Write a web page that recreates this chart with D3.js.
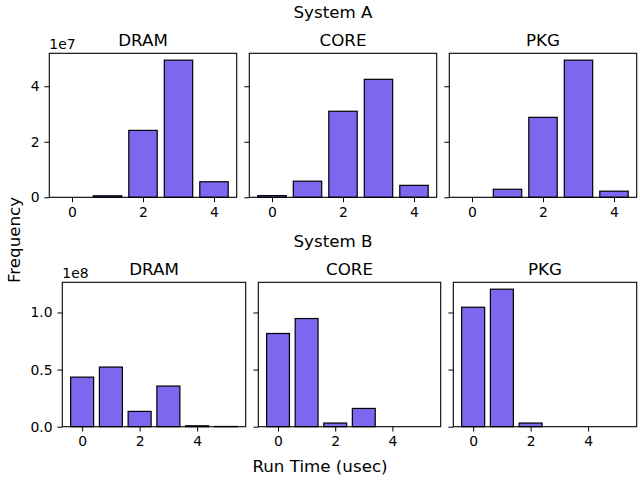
<!DOCTYPE html>
<html>
<head>
<meta charset="utf-8">
<script src="https://cdn.jsdelivr.net/npm/d3@7"></script>
<style>
  body { margin: 0; background: #fff; }
  svg { font-family: "DejaVu Sans", sans-serif; }
</style>
</head>
<body>
<svg id="chart" width="640" height="480"></svg>
<script>
// run time bins (usec)
const binsA = [0, 1, 2, 3, 4];
const binsB = [0, 1, 2, 3, 4, 5];
const domains = ['DRAM', 'CORE', 'PKG'];

// System A frequencies
const aDram = [0, 0.55e6, 2.41e7, 4.94e7, 0.56e7];
const aCore = [0.06e7, 0.58e7, 3.10e7, 4.25e7, 0.43e7];
const aPkg = [0, 0.29e7, 2.88e7, 4.94e7, 0.22e7];

// System B frequencies
const bDram = [0.434e8, 0.522e8, 0.134e8, 0.356e8, 0.008e8, 0.002e8];
const bCore = [0.816e8, 0.947e8, 0.032e8, 0.160e8, 0, 0];
const bPkg = [1.046e8, 1.204e8, 0.032e8, 0, 0, 0];

const xTicks = [0, 2, 4];
const yTicksA = [0, 2e7, 4e7];
const yTicksB = [0, 0.5e8, 1.0e8];

const svg = d3.select('#chart');
const barColor = '#7B68EE';

function drawPanel(box, title, bins, values, yScale, yTicks, yFmt, showLabels, offsetText) {
  const x = d3.scaleLinear()
    .domain([bins[0] - 0.4 - 0.05 * (bins.length - 0.2), bins[bins.length - 1] + 0.4 + 0.05 * (bins.length - 0.2)])
    .range([box.left, box.right]);
  const y = yScale.copy().range([box.bottom, box.top]);
  const g = svg.append('g');

  g.selectAll('rect.bar').data(values).enter().append('rect')
    .attr('class', 'bar')
    .attr('x', (d, i) => x(bins[i] - 0.4))
    .attr('width', (d, i) => x(bins[i] + 0.4) - x(bins[i] - 0.4))
    .attr('y', d => y(d))
    .attr('height', d => y(0) - y(d))
    .attr('fill', barColor)
    .attr('stroke', '#000')
    .attr('stroke-width', 1.2);

  // axes
  const xAxis = d3.axisBottom(x).tickValues(xTicks).tickSize(4.9).tickPadding(4.9).tickFormat(d3.format('d'));
  g.append('g').attr('transform', `translate(0,${box.bottom})`).call(xAxis);
  const yAxis = d3.axisLeft(y).tickValues(yTicks).tickSize(4.9).tickPadding(4.9)
    .tickFormat(showLabels ? yFmt : '');
  g.append('g').attr('transform', `translate(${box.left},0)`).call(yAxis);
  g.selectAll('.domain').remove();
  g.selectAll('.tick line').attr('stroke', '#000').attr('stroke-width', 1);
  g.selectAll('.tick text').attr('font-size', '13.9px').attr('fill', '#000')
    .attr('font-family', '"DejaVu Sans", sans-serif');

  // frame
  g.append('rect')
    .attr('x', box.left).attr('y', box.top)
    .attr('width', box.right - box.left).attr('height', box.bottom - box.top)
    .attr('fill', 'none').attr('stroke', '#000').attr('stroke-width', 1.1);

  g.append('text')
    .attr('x', (box.left + box.right) / 2).attr('y', box.top - 7)
    .attr('text-anchor', 'middle').attr('font-size', '16.7px')
    .text(title);

  if (offsetText) {
    g.append('text')
      .attr('x', box.left).attr('y', box.top - 4)
      .attr('font-size', '13.9px')
      .text(offsetText);
  }
}

const yA = d3.scaleLinear().domain([0, d3.max(aDram.concat(aCore, aPkg)) * 1.05]);
const yB = d3.scaleLinear().domain([0, d3.max(bDram.concat(bCore, bPkg)) * 1.05]);

const boxesA = [
  {left: 49.3, right: 236.7, top: 53.3, bottom: 197.3},
  {left: 249.3, right: 436.7, top: 53.3, bottom: 197.3},
  {left: 449.3, right: 636.7, top: 53.3, bottom: 197.3}
];
const boxesB = [
  {left: 62.3, right: 245.7, top: 282.3, bottom: 426.7},
  {left: 258.3, right: 440.7, top: 282.3, bottom: 426.7},
  {left: 453.3, right: 636.7, top: 282.3, bottom: 426.7}
];

const fmtA = d => d3.format('d')(d / 1e7);
const fmtB = d => d3.format('.1f')(d / 1e8);

[aDram, aCore, aPkg].forEach((vals, i) => {
  drawPanel(boxesA[i], domains[i], binsA, vals, yA, yTicksA, fmtA, i === 0, i === 0 ? '1e7' : null);
});
[bDram, bCore, bPkg].forEach((vals, i) => {
  drawPanel(boxesB[i], domains[i], binsB, vals, yB, yTicksB, fmtB, i === 0, i === 0 ? '1e8' : null);
});

svg.append('text').attr('x', 333).attr('y', 18).attr('text-anchor', 'middle')
  .attr('font-size', '16.7px').text('System A');
svg.append('text').attr('x', 333).attr('y', 247).attr('text-anchor', 'middle')
  .attr('font-size', '16.7px').text('System B');
svg.append('text').attr('x', 320).attr('y', 472).attr('text-anchor', 'middle')
  .attr('font-size', '16.7px').text('Run Time (usec)');
svg.append('text').attr('transform', 'translate(20,240) rotate(-90)').attr('text-anchor', 'middle')
  .attr('font-size', '16.7px').text('Frequency');
</script>
</body>
</html>
